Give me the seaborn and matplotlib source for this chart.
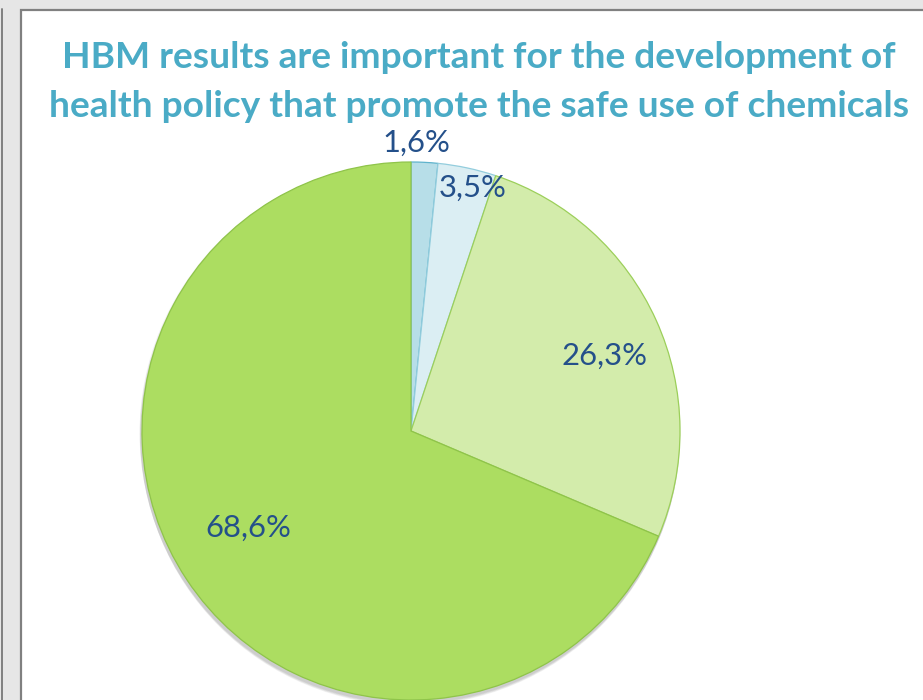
import matplotlib
matplotlib.use("Agg")
import matplotlib.pyplot as plt
import seaborn as sns
import numpy as np
from matplotlib.patches import Rectangle, Circle

# ---- data ----
labels = ["1,6%", "3,5%", "26,3%", "68,6%"]
values = [1.6, 3.5, 26.3, 68.6]
title_lines = ["HBM results are important for the development of",
               "health policy that promote the safe use of chemicals"]

# ---- style ----
colors = ["#b7dee8", "#dbeef3", "#d3ecab", "#acdd61"]
edges = ["#5fb3cc", "#93cddd", "#9ccf5a", "#8fc44a"]
label_dist = [1.071, 0.932, 0.77, 0.705]
label_dang = [1.9, -2.2, -3.1, -2.75]

sns.set_theme(style="white")
plt.rcParams['font.family'] = ['Lato', 'DejaVu Sans']

W, H = 923, 700
fig = plt.figure(figsize=(W / 100, H / 100), dpi=100)
fig.patch.set_facecolor('#e6e6e6')
ax = fig.add_axes([0, 0, 1, 1])

# pie (pixel coordinates, y up)
cx, cy, R = 411, H - 431, 269

# shadow
for i, a in enumerate([0.05, 0.05, 0.05, 0.05]):
    ax.add_patch(Circle((cx - 1, cy - 2 - i), R + 1.5 - i * 0.3, facecolor='black',
                        alpha=a, edgecolor='none', zorder=1))

wedges, _ = ax.pie(values, colors=colors, startangle=90, counterclock=False,
                   center=(cx, cy), radius=R,
                   wedgeprops=dict(linewidth=0.9, zorder=2))
for w, ec in zip(wedges, edges):
    w.set_edgecolor(ec)
    w.set_zorder(2)

for w, lab, d, da in zip(wedges, labels, label_dist, label_dang):
    ang = np.deg2rad((w.theta1 + w.theta2) / 2 + da)
    ax.text(cx + d * R * np.cos(ang), cy + d * R * np.sin(ang), lab,
            ha='center', va='center', fontsize=22.3, color='#24508a', zorder=5)

# panel frame
ax.add_patch(Rectangle((21, -10), W, H - 10 + 10, facecolor='white',
                       edgecolor='#808080', lw=1.6, zorder=0))
ax.plot([1.5, 1.5], [-5, H - 9], color='#808080', lw=1.4, zorder=0)

# title
ax.text(479, H - 68, title_lines[0], ha='center', va='baseline', fontsize=26.7,
        fontweight='bold', color='#4aabc6', zorder=5)
ax.text(479, H - 117, title_lines[1], ha='center', va='baseline', fontsize=26.7,
        fontweight='bold', color='#4aabc6', zorder=5)

ax.set_xlim(0, W)
ax.set_ylim(0, H)
ax.set_aspect('auto')
ax.axis('off')

fig.savefig('out.png', dpi=100, facecolor=fig.get_facecolor())
